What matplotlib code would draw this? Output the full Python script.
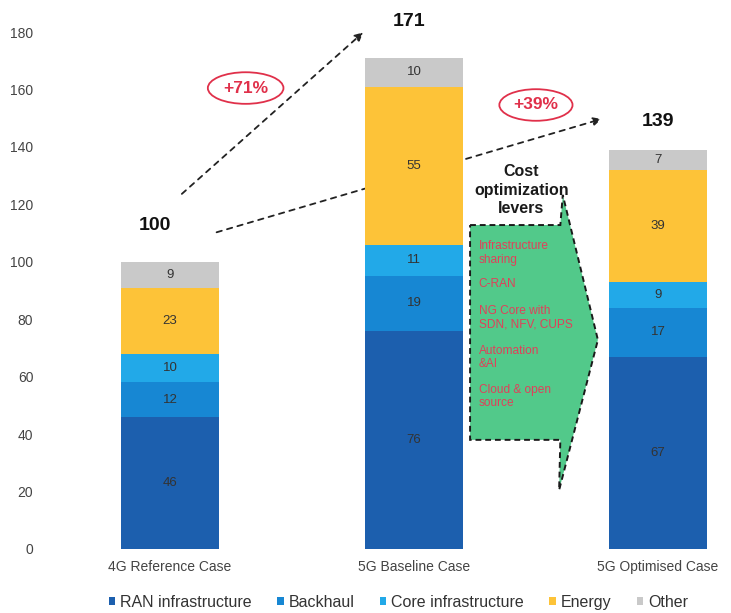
import numpy as np
import matplotlib
matplotlib.use("Agg")
import matplotlib.pyplot as plt
from matplotlib.patches import Ellipse, Polygon

plt.rcParams['font.family'] = ['Liberation Sans', 'DejaVu Sans']

# ---------------- data ----------------
cases   = ["4G Reference Case", "5G Baseline Case", "5G Optimised Case"]
series  = ["RAN infrastructure", "Backhaul", "Core infrastructure", "Energy", "Other"]
ran     = [46, 76, 67]
backh   = [12, 19, 17]
core    = [10, 11, 9]
energy  = [23, 55, 39]
other   = [9, 10, 7]
totals  = [100, 171, 139]
growth  = ["+71%", "+39%"]
levers  = ["Infrastructure\nsharing", "C-RAN", "NG Core with\nSDN, NFV, CUPS",
           "Automation\n&AI", "Cloud & open\nsource"]

colors = ["#1c5fae", "#1787d3", "#22a9e8", "#fdc338", "#c9c9c9"]
# --------------------------------------

fig = plt.figure(figsize=(7.31, 6.13), dpi=100)
ax = fig.add_axes([50/731, 64/613, 675/731, 190*2.872/613])

x = np.arange(len(cases))
vals = [ran, backh, core, energy, other]
bottom = np.zeros(len(cases))
for v, c, name in zip(vals, colors, series):
    ax.bar(x, v, 0.40, bottom=bottom, color=c, label=name, zorder=3)
    for xi, b, h in zip(x, bottom, v):
        ax.text(xi, b + h/2, str(h), ha='center', va='center', fontsize=9.5,
                color='#333333', zorder=4)
    bottom += np.array(v)

# totals above bars
offs = [12.5, 12.5, 10]
dx = [-0.06, -0.02, 0.0]
for xi, t, o, d in zip(x, totals, offs, dx):
    ax.text(xi + d, t + o, str(t), ha='center', va='center', fontsize=14,
            fontweight='bold', color='#111111')

# dashed growth arrows
ax.annotate("", xy=(0.80, 180.5), xytext=(0.04, 123),
            arrowprops=dict(arrowstyle='-|>', linestyle=(0, (3, 3)), lw=1.3,
                            color='#222222', mutation_scale=12), zorder=1)
ax.annotate("", xy=(1.78, 150), xytext=(0.18, 110),
            arrowprops=dict(arrowstyle='-|>', linestyle=(0, (3, 3)), lw=1.3,
                            color='#222222', mutation_scale=12), zorder=1)

# circled percentages
for (cx, cy, w), g in zip([(0.31, 160.5, 0.31), (1.50, 154.6, 0.30)], growth):
    ax.add_patch(Ellipse((cx, cy), w, 11, fill=False, edgecolor='#e0304a', lw=1.3, zorder=5))
    ax.text(cx, cy, g, ha='center', va='center', fontsize=12.5, fontweight='bold',
            color='#e0304a', zorder=6)

# cost optimization lever arrow
pts = [(1.23, 112.8), (1.60, 112.8), (1.61, 123.3), (1.754, 72.8),
       (1.595, 20.5), (1.60, 38.0), (1.23, 38.0)]
ax.add_patch(Polygon(pts, closed=True, facecolor='#52c98a', edgecolor='#1a1a1a',
                     lw=1.4, linestyle=(0, (3, 2)), zorder=2))
ax.text(1.44, 125.0, "Cost\noptimization\nlevers", ha='center', va='center',
        fontsize=11.5, fontweight='bold', color='#1a1a1a', linespacing=1.3)
ly = [107.5, 94.5, 85.0, 71.0, 57.5]
for s, yy in zip(levers, ly):
    ax.text(1.265, yy, s, ha='left', va='top', fontsize=8.6, color='#e0405a',
            linespacing=1.15, zorder=6)

ax.set_xlim(-0.492, 2.275)
ax.set_ylim(0, 190)
ax.set_yticks(np.arange(0, 181, 20))
ax.set_xticks(x)
ax.set_xticklabels(cases, fontsize=10, color='#444444')
ax.tick_params(axis='y', labelsize=10, labelcolor='#444444', length=0, pad=12)
ax.tick_params(axis='x', length=0, pad=8)
for s in ax.spines.values():
    s.set_visible(False)

leg = fig.legend(loc='lower center', bbox_to_anchor=(0.545, -0.018), ncol=5,
                 frameon=False, fontsize=11.5, handlelength=0.4, handleheight=0.4,
                 handletextpad=0.3, columnspacing=1.6)
for t in leg.get_texts():
    t.set_color('#333333')

fig.savefig("out.png", dpi=100)
